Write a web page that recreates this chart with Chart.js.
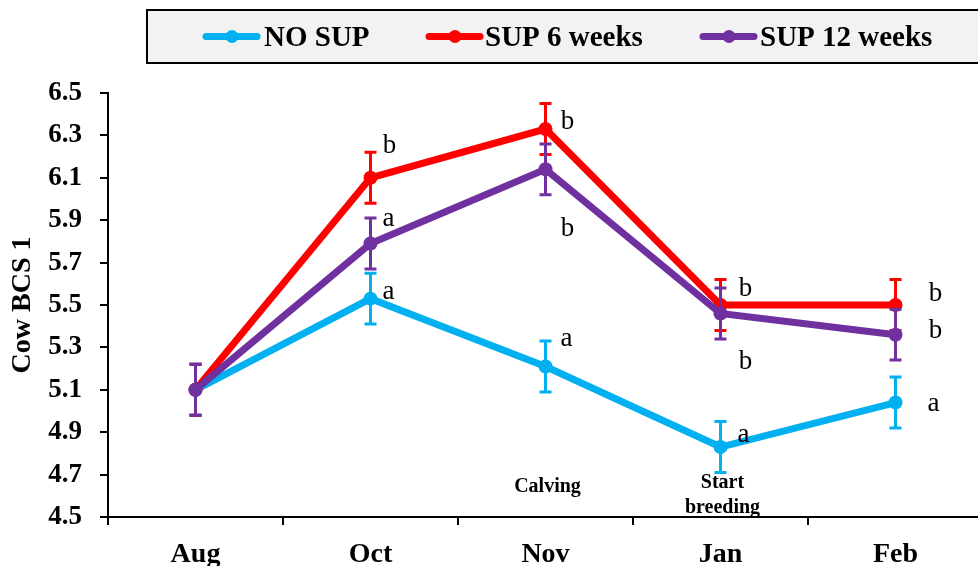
<!DOCTYPE html>
<html>
<head>
<meta charset="utf-8">
<script src="https://cdn.jsdelivr.net/npm/chart.js@4.4.1/dist/chart.umd.min.js"></script>
<style>
html,body{margin:0;padding:0;background:#fff;overflow:hidden;width:978px;height:566px;}
#wrap{position:absolute;left:0;top:0;width:990px;height:566px;}
</style>
</head>
<body>
<div id="wrap"><canvas id="c" width="990" height="566"></canvas></div>
<script>
// ---- data ----
const months = ['Aug', 'Oct', 'Nov', 'Jan', 'Feb'];
const seriesNames = ['NO SUP', 'SUP 6 weeks', 'SUP 12 weeks'];
const noSup = [5.10, 5.53, 5.21, 4.83, 5.04];
const sup6 = [5.10, 6.10, 6.33, 5.50, 5.50];
const sup12 = [5.10, 5.79, 6.14, 5.46, 5.36];
const seNoSup = [0.12, 0.12, 0.12, 0.12, 0.12];
const seSup6 = [0.12, 0.12, 0.12, 0.12, 0.12];
const seSup12 = [0.12, 0.12, 0.12, 0.12, 0.12];
const lettersNoSup = ['', 'a', 'a', 'a', 'a'];
const lettersSup6 = ['', 'b', 'b', 'b', 'b'];
const lettersSup12 = ['', 'a', 'b', 'b', 'b'];
const yMin = 4.5, yMax = 6.5, yStep = 0.2;
const yTitle = 'Cow BCS 1';
const eventNotes = [
  {cat: 'Nov', lines: ['Calving'], value: 4.64},
  {cat: 'Jan', lines: ['Start', 'breeding'], value: 4.66}
];

const colors = ['#00B0F0', '#FF0000', '#7030A0'];
const serif = "'Liberation Serif', 'Times New Roman', serif";

// letter placement offsets (px) relative to each point: [dx, dyBaseline]
const letterOffsets = [
  [[0,0],[18,0],[21,-20],[23,-5],[38,8]],
  [[0,0],[19,-25],[22,0],[25,-9],[40,-4]],
  [[0,0],[18,-18],[22,67],[25,56],[40,3]]
];

const overlay = {
  id: 'overlay',
  afterDatasetDraw(chart, args) {
    const i = args.index;
    const ds = chart.data.datasets[i];
    const meta = args.meta;
    const ys = chart.scales.y;
    const ctx = chart.ctx;
    ctx.save();
    ctx.strokeStyle = ds.borderColor;
    ctx.lineWidth = 3;
    ctx.lineCap = 'butt';
    ds.errors.forEach((e, j) => {
      const p = meta.data[j];
      const t = ys.getPixelForValue(ds.data[j] + e);
      const b = ys.getPixelForValue(ds.data[j] - e);
      ctx.beginPath();
      ctx.moveTo(p.x, t); ctx.lineTo(p.x, b);
      ctx.moveTo(p.x - 6, t); ctx.lineTo(p.x + 6, t);
      ctx.moveTo(p.x - 6, b); ctx.lineTo(p.x + 6, b);
      ctx.stroke();
    });
    ctx.restore();
  },
  afterDraw(chart) {
    const ctx = chart.ctx;
    const xs = chart.scales.x, ys = chart.scales.y;
    ctx.save();
    // significance letters
    ctx.fillStyle = '#000';
    ctx.font = "27px " + serif;
    ctx.textAlign = 'center';
    ctx.textBaseline = 'alphabetic';
    chart.data.datasets.forEach((ds, i) => {
      const meta = chart.getDatasetMeta(i);
      ds.letters.forEach((L, j) => {
        if (!L) return;
        const p = meta.data[j];
        const o = letterOffsets[i][j];
        ctx.fillText(L, p.x + o[0], p.y + o[1]);
      });
    });
    // event notes
    ctx.font = "bold 20px " + serif;
    ctx.textBaseline = 'middle';
    eventNotes.forEach(n => {
      const x = xs.getPixelForValue(months.indexOf(n.cat));
      const y0 = ys.getPixelForValue(n.value);
      n.lines.forEach((ln, k) => ctx.fillText(ln, x + 2, y0 + k * 25));
    });
    // legend
    ctx.fillStyle = '#F2F2F2';
    ctx.fillRect(147, 10, 900, 53);
    ctx.strokeStyle = '#000';
    ctx.lineWidth = 2;
    ctx.strokeRect(147, 10, 900, 53);
    const items = [[203, 264], [426, 485], [700, 760]];
    ctx.font = "bold 29px " + serif;
    ctx.textAlign = 'left';
    ctx.textBaseline = 'alphabetic';
    seriesNames.forEach((nm, i) => {
      const [lx, tx] = items[i];
      ctx.strokeStyle = colors[i];
      ctx.lineWidth = 7;
      ctx.lineCap = 'round';
      ctx.beginPath(); ctx.moveTo(lx + 3, 36.5); ctx.lineTo(lx + 54, 36.5); ctx.stroke();
      ctx.fillStyle = colors[i];
      ctx.beginPath(); ctx.arc(lx + 29, 36.5, 6.5, 0, Math.PI * 2); ctx.fill();
      ctx.fillStyle = '#000';
      ctx.fillText(nm, tx, 46);
    });
    ctx.restore();
  }
};

const mk = (label, data, se, letters, color, order) => ({
  label, data, errors: se, letters,
  borderColor: color, backgroundColor: color,
  pointBackgroundColor: color, pointBorderColor: color,
  borderWidth: 7, pointRadius: 7, pointHoverRadius: 7, pointBorderWidth: 0,
  tension: 0, fill: false, order
});

new Chart(document.getElementById('c'), {
  type: 'line',
  data: {
    labels: months,
    datasets: [
      mk(seriesNames[0], noSup, seNoSup, lettersNoSup, colors[0], 2),
      mk(seriesNames[1], sup6, seSup6, lettersSup6, colors[1], 1),
      mk(seriesNames[2], sup12, seSup12, lettersSup12, colors[2], 0)
    ]
  },
  options: {
    responsive: false,
    animation: false,
    devicePixelRatio: 1,
    layout: {padding: {top: 93, right: 2, left: 0, bottom: 0}},
    plugins: {legend: {display: false}, tooltip: {enabled: false}},
    scales: {
      x: {
        offset: true,
        grid: {display: true, drawOnChartArea: false, offset: true, drawTicks: true, tickLength: 8, color: '#000', lineWidth: 2},
        border: {display: true, color: '#000', width: 2},
        ticks: {color: '#000', font: {family: serif, size: 28, weight: 'bold'}, padding: 13, maxRotation: 0},
        afterFit: s => { s.height = 49; }
      },
      y: {
        min: yMin, max: yMax,
        grid: {display: true, drawOnChartArea: false, drawTicks: true, tickLength: 8, color: '#000', lineWidth: 2},
        border: {display: true, color: '#000', width: 2},
        ticks: {stepSize: yStep, color: '#000', font: {family: serif, size: 27, weight: 'bold'}, padding: 18,
          callback: v => Number(v).toFixed(1)},
        title: {display: true, text: yTitle, color: '#000', font: {family: serif, size: 28, weight: 'bold', lineHeight: 1}, padding: {top: 9, bottom: 0}},
        afterFit: s => { s.width = 108; }
      }
    }
  },
  plugins: [overlay]
});
</script>
</body>
</html>
